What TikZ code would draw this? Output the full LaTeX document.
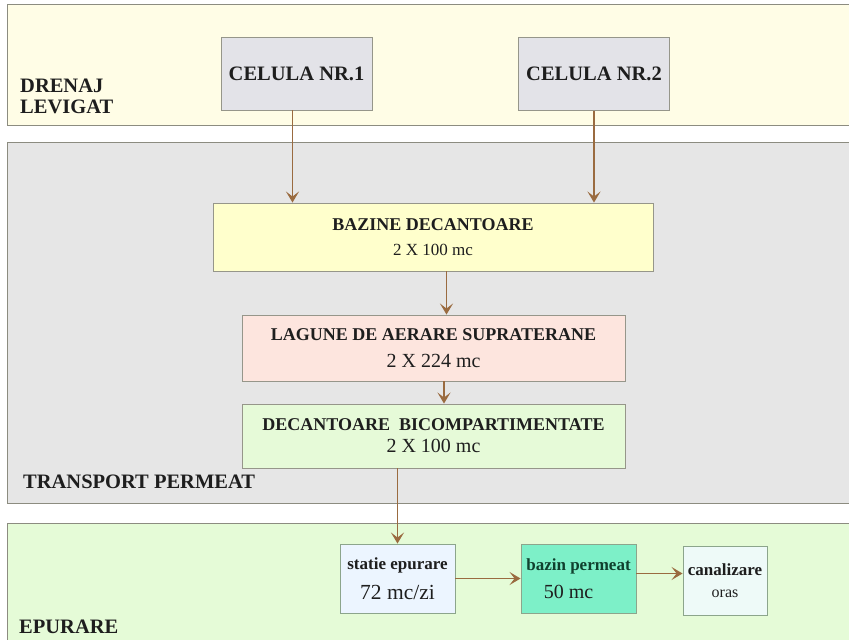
\documentclass[tikz,border=0pt]{standalone}
\usepackage{fontspec}
\setmainfont{Liberation Serif}
\usepackage{xcolor}
\usetikzlibrary{arrows.meta}
\definecolor{drenajbg}{RGB}{255,253,230}
\definecolor{transpbg}{RGB}{230,230,230}
\definecolor{epurbg}{RGB}{229,251,215}
\definecolor{bandline}{RGB}{140,140,128}
\definecolor{unitline}{RGB}{150,150,138}
\definecolor{stepline}{RGB}{140,165,140}
\definecolor{cellbg}{RGB}{227,227,232}
\definecolor{bazinebg}{RGB}{255,255,204}
\definecolor{lagunebg}{RGB}{253,229,222}
\definecolor{decantbg}{RGB}{230,250,216}
\definecolor{statiebg}{RGB}{236,245,255}
\definecolor{bazinbg}{RGB}{125,240,200}
\definecolor{canalbg}{RGB}{238,250,248}
\definecolor{flowcol}{RGB}{154,107,64}
\definecolor{labeltext}{RGB}{30,30,30}
\definecolor{bazintext}{RGB}{16,64,46}
\newcommand\hdrfont{\fontsize{18}{22}\selectfont\bfseries}
\newcommand\valfont{\fontsize{20}{22}\selectfont\mdseries}
\def\figw{849}
\def\figh{640}

\begin{document}
\fontsize{10}{22}\selectfont
\begin{tikzpicture}[x=1pt, y=-1pt,
    band/.style={draw=bandline, line width=1pt},
    bandlabel/.style={font=\fontsize{20.5}{22}\selectfont\bfseries, text=labeltext, inner sep=0pt, align=left},
    unit/.style={draw=unitline, line width=0.9pt, align=center, inner sep=0pt, text=labeltext},
    cell/.style={unit, fill=cellbg, minimum width=151pt, minimum height=73pt, font=\fontsize{20.5}{22}\selectfont\bfseries},
    small/.style={unit, draw=stepline, minimum height=69pt, font=\fontsize{17}{22}\selectfont},
    flow/.style={draw=flowcol, line width=1.6pt, -{Stealth[length=11pt,width=13pt,inset=5pt]}}]
  \useasboundingbox (0,0) rectangle (\figw,\figh);
  \fill[white] (0,0) rectangle (\figw,\figh);
  \draw[band, fill=drenajbg] (7,4) rectangle (\figw+10,125);
  \draw[band, fill=transpbg] (7,142) rectangle (\figw+10,503);
  \draw[band, fill=epurbg] (7,523) rectangle (\figw+10,\figh+10);

  \node[bandlabel, anchor=west] (drenaj) at (20,96) {DRENAJ\\[-1pt]LEVIGAT};
  \node[bandlabel, anchor=base west] (transport) at (23,488) {TRANSPORT PERMEAT};
  \node[bandlabel, anchor=base west] (epurare) at (19,633) {EPURARE};

  \node[cell] (celula1) at (296.5,73.5) {CELULA NR.1};
  \node[cell] (celula2) at (594,74) {CELULA NR.2};
  \node[unit, fill=bazinebg, minimum width=440pt, minimum height=68pt] (bazine) at (433,237)
    {{\hdrfont BAZINE DECANTOARE}\\[3pt]{\fontsize{17}{22}\selectfont\mdseries 2 X 100 mc}};
  \node[unit, fill=lagunebg, minimum width=383pt, minimum height=66pt] (lagune) at (433.5,348)
    {{\hdrfont LAGUNE DE AERARE SUPRATERANE}\\[5pt]{\valfont 2 X 224 mc}};
  \node[unit, fill=decantbg, minimum width=383pt, minimum height=64pt] (decant) at (433.5,436)
    {{\hdrfont DECANTOARE\ \ BICOMPARTIMENTATE}\\[0pt]{\valfont 2 X 100 mc}};
  \node[small, fill=statiebg, minimum width=115pt] (statie) at (397.5,578.5)
    {{\bfseries statie epurare}\\[8pt]{\fontsize{21.5}{22}\selectfont 72 mc/zi}};
  \node[small, fill=bazinbg, minimum width=115pt] (bazin) at (578.5,578.5)
    {{\bfseries\color{bazintext} bazin permeat}\\[6pt]{\valfont 50 mc\hspace*{20pt}}};
  \node[small, fill=canalbg, minimum width=84pt] (canal) at (725,580.5)
    {{\bfseries canalizare}\\{\fontsize{16}{22}\selectfont oras}};

  \coordinate (c1) at ([xshift=-4pt]celula1.south);
  \coordinate (b1) at ([xshift=13.5pt]bazine.south);
  \coordinate (l1) at ([xshift=10.5pt]lagune.south);
  \coordinate (p1) at ([yshift=5pt]bazin.east);
  \draw[flow] (c1) -- (c1 |- bazine.north);
  \draw[flow] (celula2.south) -- (celula2.south |- bazine.north);
  \draw[flow] (b1) -- (b1 |- lagune.north);
  \draw[flow] (l1) -- (l1 |- decant.north);
  \draw[flow] (statie.north |- decant.south) -- (statie.north);
  \draw[flow] (statie.east) -- (bazin.west);
  \draw[flow] (p1) -- (p1 -| canal.west);
\end{tikzpicture}
\end{document}
